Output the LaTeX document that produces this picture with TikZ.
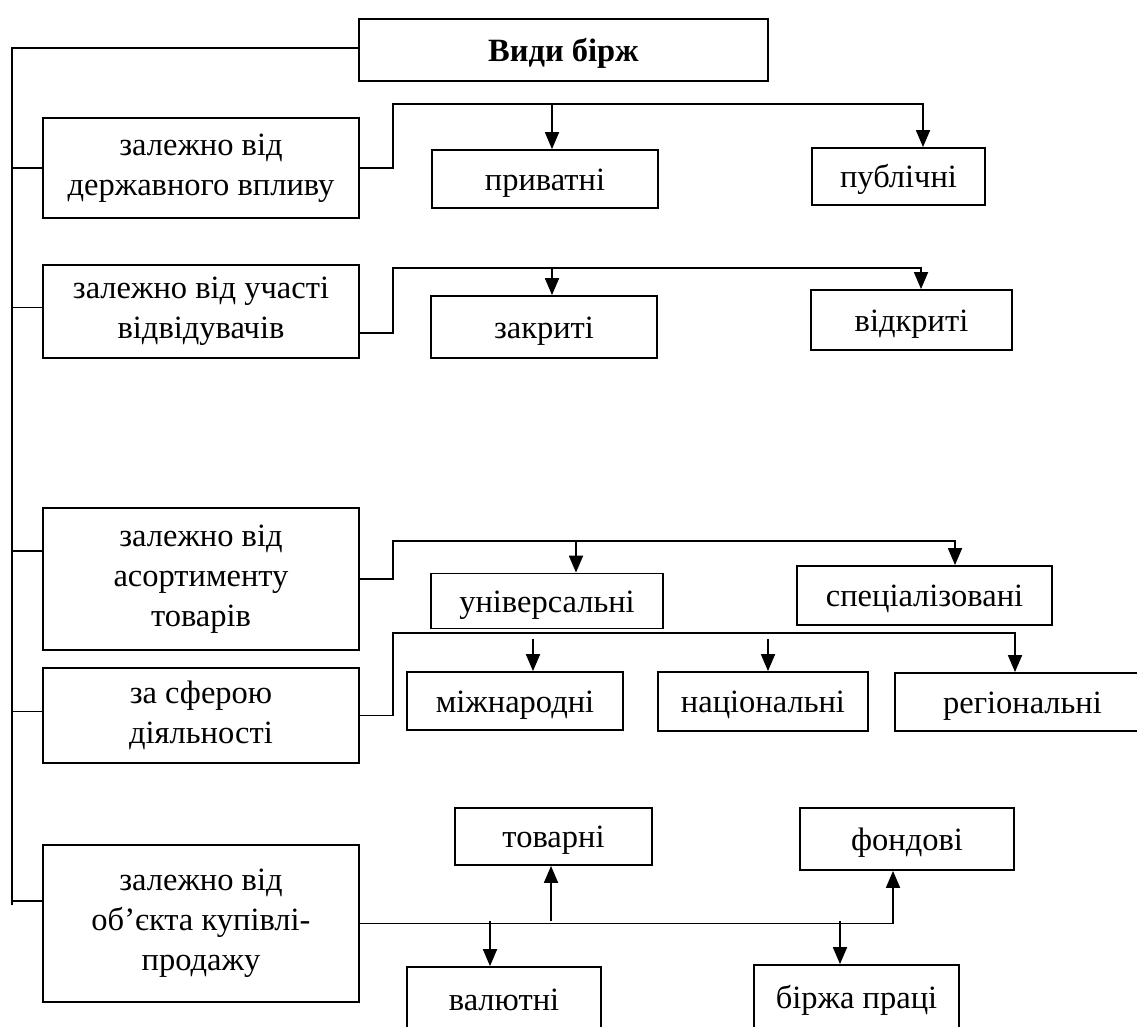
\documentclass[tikz,border=0pt]{standalone}
\usepackage{fontspec}
\setmainfont{Liberation Serif}
\usetikzlibrary{arrows.meta}
\newcommand\fsz{\fontsize{32.5}{40}\selectfont}
\begin{document}
\begin{tikzpicture}[x=1pt,y=-1pt,
  box/.style={draw, line width=1.8pt, inner sep=0pt, align=center, font=\fsz},
  kid/.style={box, text height=25pt, text depth=3pt},
  ln/.style={line width=1.8pt},
  arr/.style={ln, -{Triangle[length=17pt,width=14pt]}}]
\useasboundingbox (0,0) rectangle (1137,1026);
\clip (0,0) rectangle (1137,1026);
% title
\node[kid, minimum width=409pt, minimum height=62pt] (title) at (563.5,50) {\textbf{Види бірж}};
% parents
\node[box, minimum width=316pt, minimum height=100pt] (p1) at (201,168) {залежно від\\державного впливу};
\node[box, minimum width=316pt, minimum height=93pt] (p2) at (201,311.5) {залежно від участі\\відвідувачів};
\node[box, minimum width=316pt, minimum height=142pt] (p3) at (201,579) {залежно від\\асортименту\\товарів};
\node[box, minimum width=316pt, minimum height=95pt] (p4) at (201,715.5) {за сферою\\діяльності};
\node[box, minimum width=316pt, minimum height=157pt] (p5) at (201,923.5) {залежно від\\об’єкта купівлі-\\продажу};
% children
\node[kid, minimum width=226pt, minimum height=58pt] (c11) at (545,179) {приватні};
\node[kid, minimum width=173pt, minimum height=57pt] (c12) at (898.5,176.5) {публічні};
\node[kid, minimum width=226pt, minimum height=62pt] (c21) at (544,327) {закриті};
\node[kid, minimum width=201pt, minimum height=60pt] (c22) at (911.5,320) {відкриті};
\node[kid, minimum width=232pt, minimum height=55pt] (c31) at (547,601) {універсальні};
\node[kid, minimum width=255pt, minimum height=59pt] (c32) at (924.5,595.5) {спеціалізовані};
\node[kid, minimum width=216pt, minimum height=58pt] (c41) at (515,701) {міжнародні};
\node[kid, minimum width=210pt, minimum height=59pt] (c42) at (763,701.5) {національні};
\node[kid, minimum width=255pt, minimum height=58pt] (c43) at (1022.5,702) {регіональні};
\node[kid, minimum width=197pt, minimum height=57pt] (c51) at (553.5,836.5) {товарні};
\node[kid, minimum width=214pt, minimum height=62pt] (c52) at (907,839) {фондові};
\node[kid, minimum width=194pt, minimum height=64pt] (c53) at (504,999) {валютні};
\node[kid, minimum width=205pt, minimum height=64pt] (c54) at (856.5,997) {біржа праці};
% spine
\coordinate (st) at (12,48);
\coordinate (sb) at (12,905);
\draw[ln] (sb) -- (st) -- (st -| title.west);
\draw[ln] (p1.west -| st) -- (p1.west);
\draw[ln] ([yshift=4pt]p2.west -| st) -- ([yshift=4pt]p2.west);
\draw[ln] ([yshift=28pt]p3.west -| st) -- ([yshift=28pt]p3.west);
\draw[ln] ([yshift=4pt]p4.west -| st) -- ([yshift=4pt]p4.west);
\draw[ln] ([yshift=22.5pt]p5.west -| st) -- ([yshift=22.5pt]p5.west);
% row 1
\coordinate (b1) at (393,104);
\coordinate (a11) at (552,104);
\coordinate (a12) at (923,104);
\draw[arr] (p1.east) -- (p1.east -| b1) -- (b1) -- (a12) -- (a12 |- c12.north);
\draw[arr] (a11) -- (a11 |- c11.north);
% row 2
\coordinate (b2) at (393,268);
\coordinate (a21) at (552,268);
\coordinate (a22) at (921,268);
\draw[arr] ([yshift=-21.5pt]p2.east) -- ([yshift=-21.5pt]p2.east -| b2) -- (b2) -- (a22) -- (a22 |- c22.north);
\draw[arr] (a21) -- (a21 |- c21.north);
% row 3
\coordinate (b3) at (393,541);
\coordinate (a31) at (576,541);
\coordinate (a32) at (955,541);
\draw[arr] (p3.east) -- (p3.east -| b3) -- (b3) -- (a32) -- (a32 |- c32.north);
\draw[arr] (a31) -- (a31 |- c31.north);
% row 4
\coordinate (b4) at (393,633);
\coordinate (a41) at (533,639);
\coordinate (a42) at (768,639);
\coordinate (a43) at (1015,633);
\draw[arr] (p4.east) -- (p4.east -| b4) -- (b4) -- (a43) -- (a43 |- c43.north);
\draw[arr] (a41) -- (a41 |- c41.north);
\draw[arr] (a42) -- (a42 |- c42.north);
% row 5
\coordinate (e5) at (893,921);
\coordinate (u51) at (551,921);
\coordinate (d53) at (490,921);
\coordinate (d54) at (840,921);
\draw[arr] (p5.east) -- (p5.east -| e5) -- (e5 |- c52.south);
\draw[arr] (u51) -- (u51 |- c51.south);
\draw[arr] (d53) -- (d53 |- c53.north);
\draw[arr] (d54) -- (d54 |- c54.north);
\end{tikzpicture}
\end{document}
